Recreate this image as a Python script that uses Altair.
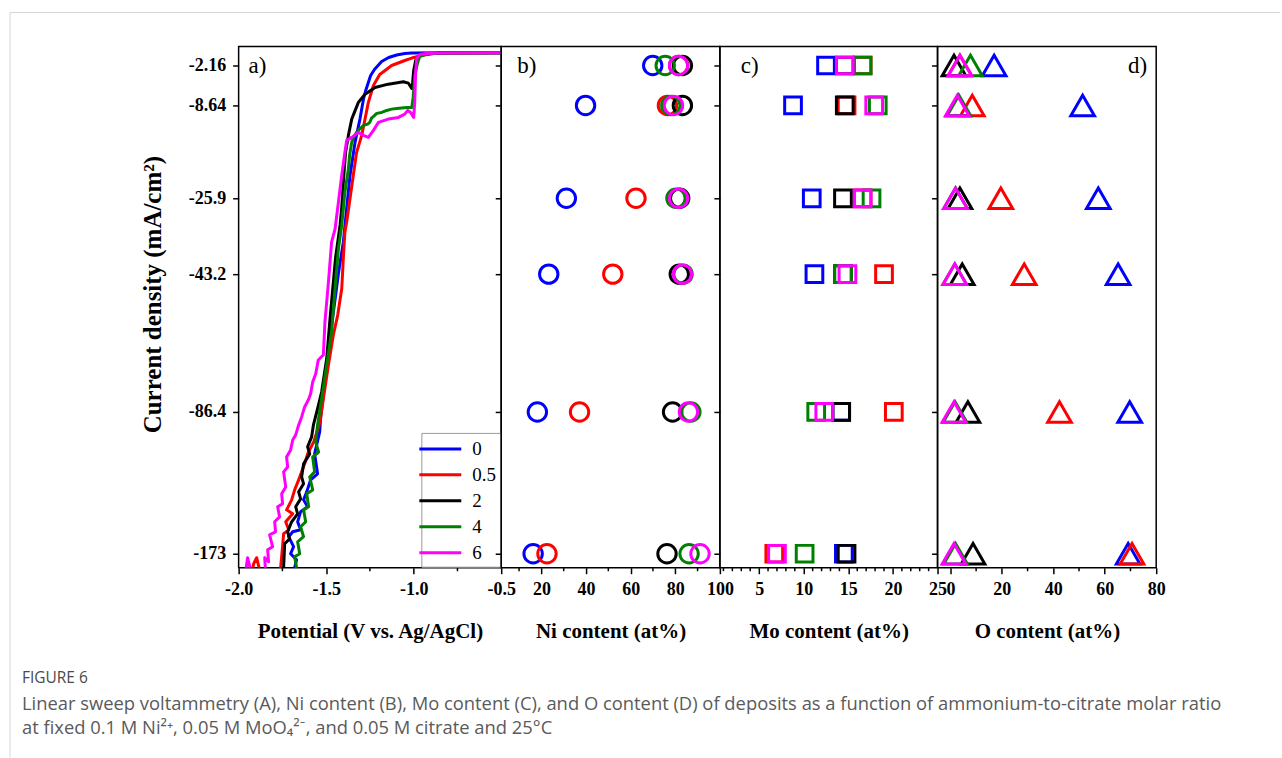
import altair as alt
import pandas as pd

FONT = "Liberation Serif, Times New Roman, Times, serif"
SANS = "Open Sans, Lato, sans-serif"

# ---- categories / colours ----
ratios = ["0", "0.5", "2", "4", "6"]
colors = ["#0000FF", "#FF0000", "#000000", "#008000", "#FF00FF"]

# current densities used for deposition (y axis, mA/cm2)
levels = [-2.16, -8.64, -25.9, -43.2, -86.4, -173]

# ---- panel b: Ni content (at%) per ratio, ordered as `levels` ----
ni_0 = [69.9, 39.8, 31.2, 23.3, 18.2, 16.3]
ni_05 = [81.5, 76.5, 62.4, 52.0, 37.1, 22.5]
ni_2 = [83.2, 83.2, 82.0, 81.8, 78.8, 76.3]
ni_4 = [75.5, 78.0, 80.3, 83.5, 87.0, 86.2]
ni_6 = [81.5, 79.2, 81.5, 83.2, 85.9, 91.1]

# ---- panel c: Mo content (at%) ----
mo_0 = [12.5, 8.8, 10.9, 11.2, 14.2, 14.5]
mo_05 = [16.6, 14.8, 16.6, 19.0, 20.1, 6.7]
mo_2 = [14.6, 14.6, 14.4, 14.4, 14.2, 14.8]
mo_4 = [16.6, 18.3, 17.6, 14.4, 11.4, 10.1]
mo_6 = [14.6, 17.9, 16.6, 14.9, 12.3, 7.0]

# ---- panel d: O content (at%) ----
o_0 = [17.0, 51.4, 57.5, 65.2, 69.7, 69.1]
o_05 = [3.7, 8.5, 19.6, 28.7, 42.4, 70.6]
o_2 = [1.4, 3.0, 3.7, 4.6, 6.8, 8.8]
o_4 = [7.8, 3.3, 2.0, 1.7, 1.8, 2.0]
o_6 = [3.7, 2.7, 2.0, 1.7, 1.4, 1.4]

# ---- panel a: LSV curves, potential (V vs Ag/AgCl) and current density (mA/cm2) ----
pot_0 = [-0.5, -0.84, -1.011, -1.051, -1.097, -1.143, -1.183, -1.223, -1.246, -1.259, -1.274, -1.287,
         -1.307, -1.335, -1.364, -1.383, -1.402, -1.429, -1.451, -1.474, -1.491, -1.514, -1.531, -1.537,
         -1.566, -1.549, -1.589, -1.611, -1.629, -1.606, -1.646, -1.663, -1.646, -1.691, -1.714, -1.686,
         -1.703, -1.669, -1.680, -1.657]
cur_0 = [-0.1, -0.1, -0.13, -0.22, -0.46, -0.86, -1.51, -2.76, -3.78, -4.91, -6.21, -7.62,
         -11.18, -15.51, -21.7, -28.34, -35.91, -42.75, -51.96, -61.35, -70.75, -80.14, -89.45, -98.6,
         -112.0, -124.2, -127.9, -135.2, -140.1, -144.3, -147.4, -153.5, -158.4, -159.6, -162.6, -168.7,
         -173.0, -176.7, -181.5, -185.2]

pot_05 = [-0.5, -0.84, -0.897, -0.954, -1.011, -1.051, -1.126, -1.194, -1.230, -1.259, -1.278, -1.297,
          -1.326, -1.345, -1.364, -1.383, -1.393, -1.400, -1.411, -1.434, -1.459, -1.487, -1.516, -1.535,
          -1.571, -1.606, -1.623, -1.640, -1.657, -1.680, -1.697, -1.726, -1.691, -1.731, -1.714, -1.743,
          -1.749, -1.760, -1.80, -1.857, -1.897, -1.914, -1.937]
cur_05 = [-0.1, -0.13, -0.22, -0.54, -0.95, -1.35, -2.16, -3.62, -5.40, -8.15, -11.18, -14.21,
          -17.36, -21.63, -26.06, -31.36, -33.64, -38.19, -47.8, -56.03, -62.29, -71.71, -82.24, -92.5,
          -104.7, -112.0, -118.1, -123.0, -127.9, -134.0, -140.1, -146.2, -148.6, -153.5, -158.4, -160.8,
          -168.7, -181.5, -190.1, -193.1, -175.4, -179.1, -190.1]

pot_2 = [-0.5, -0.84, -0.926, -0.966, -0.989, -1.0, -1.006, -1.011, -1.030, -1.059, -1.145, -1.221,
         -1.278, -1.316, -1.354, -1.373, -1.389, -1.400, -1.411, -1.420, -1.430, -1.446, -1.459, -1.478,
         -1.497, -1.526, -1.549, -1.573, -1.583, -1.606, -1.594, -1.629, -1.640, -1.629, -1.657, -1.646,
         -1.674, -1.663, -1.697, -1.720, -1.709, -1.737, -1.743, -1.754]
cur_2 = [-0.1, -0.13, -0.30, -0.54, -1.35, -2.97, -4.91, -5.89, -5.03, -4.80, -5.19, -5.72,
         -6.81, -8.15, -11.18, -14.21, -17.36, -22.0, -27.95, -31.82, -34.78, -39.33, -45.70, -57.18,
         -69.72, -80.14, -85.37, -94.5, -101.6, -107.7, -112.0, -118.1, -126.0, -130.3, -135.2, -139.5,
         -144.3, -148.6, -153.5, -159.6, -163.9, -166.9, -181.5, -187.0]

pot_4 = [-0.5, -0.84, -0.926, -0.966, -0.977, -0.994, -1.003, -1.011, -1.040, -1.097, -1.126, -1.154,
         -1.183, -1.211, -1.229, -1.240, -1.251, -1.263, -1.286, -1.309, -1.326, -1.343, -1.354, -1.366,
         -1.373, -1.393, -1.411, -1.430, -1.451, -1.469, -1.497, -1.526, -1.549, -1.560, -1.543, -1.577,
         -1.566, -1.594, -1.577, -1.611, -1.600, -1.629, -1.617, -1.646, -1.629, -1.663, -1.651, -1.680,
         -1.669, -1.697]
cur_4 = [-0.1, -0.13, -0.30, -0.70, -1.67, -3.78, -7.34, -9.01, -9.01, -9.20, -9.33, -9.57,
         -9.94, -10.12, -10.68, -10.96, -11.8, -12.11, -12.35, -13.04, -13.65, -14.58, -15.51, -17.92,
         -20.46, -24.79, -32.05, -37.44, -48.83, -61.35, -71.71, -82.24, -94.33, -104.7, -110.9, -113.9,
         -123.0, -126.1, -134.0, -136.4, -144.3, -146.2, -153.5, -156.5, -162.6, -165.7, -173.0, -174.8,
         -181.5, -187.0]

pot_6 = [-0.5, -0.84, -0.926, -0.966, -0.983, -0.989, -0.994, -1.0, -1.017, -1.034, -1.051, -1.087,
         -1.145, -1.202, -1.230, -1.259, -1.287, -1.316, -1.354, -1.383, -1.393, -1.411, -1.430, -1.449,
         -1.469, -1.487, -1.507, -1.516, -1.545, -1.560, -1.577, -1.589, -1.602, -1.623, -1.640, -1.657,
         -1.674, -1.691, -1.703, -1.726, -1.720, -1.743, -1.731, -1.754, -1.749, -1.777, -1.766, -1.794,
         -1.789, -1.823, -1.806, -1.834, -1.829, -1.851, -1.846, -1.880, -1.914, -1.949, -1.960]
cur_6 = [-0.1, -0.13, -0.22, -0.38, -1.03, -3.29, -8.15, -10.87, -9.94, -9.57, -10.25, -10.87,
         -11.18, -11.8, -13.28, -14.58, -14.21, -13.65, -14.58, -15.14, -17.36, -21.63, -26.81, -32.89,
         -35.92, -45.70, -58.22, -68.55, -70.12, -74.5, -77.03, -80.79, -82.64, -84.83, -89.45, -94.33,
         -100.4, -103.5, -109.6, -113.9, -120.0, -123.0, -132.2, -136.4, -142.5, -144.3, -150.5, -153.5,
         -159.6, -161.4, -168.7, -170.6, -177.9, -175.4, -184.0, -187.0, -190.1, -175.4, -184.0]

# axis tick values
ticks_a = [-2.0, -1.5, -1.0, -0.5]
minor_a = [-1.75, -1.25, -0.75]
ticks_b = [20, 40, 60, 80, 100]
minor_b = [10, 30, 50, 70, 90]
ticks_c = [5, 10, 15, 20, 25]
minor_c = [1, 2, 3, 4, 6, 7, 8, 9, 11, 12, 13, 14, 16, 17, 18, 19, 21, 22, 23, 24]
ticks_d = [0, 20, 40, 60, 80]
minor_d = [10, 30, 50, 70]

caption_head = "FIGURE 6"
caption_lines = [
    "Linear sweep voltammetry (A), Ni content (B), Mo content (C), and O content (D) of deposits as a function of ammonium-to-citrate molar ratio",
    "at fixed 0.1 M Ni\u00b2\u207a, 0.05 M MoO\u2084\u00b2\u207b, and 0.05 M citrate and 25\u00b0C",
]

# ---------------- build tables ----------------
curves = [(pot_0, cur_0), (pot_05, cur_05), (pot_2, cur_2), (pot_4, cur_4), (pot_6, cur_6)]
rows = []
for r, (pv, cv) in zip(ratios, curves):
    for i, (p, c) in enumerate(zip(pv, cv)):
        rows.append({"ratio": r, "idx": i, "V": p, "I": c})
lsv = pd.DataFrame(rows)


def comp_table(series, name):
    out = []
    for r, vals in zip(ratios, series):
        for lv, v in zip(levels, vals):
            out.append({"ratio": r, "I": lv, name: v})
    return pd.DataFrame(out)


ni_df = comp_table([ni_0, ni_05, ni_2, ni_4, ni_6], "Ni")
mo_df = comp_table([mo_0, mo_05, mo_2, mo_4, mo_6], "Mo")
o_df = comp_table([o_0, o_05, o_2, o_4, o_6], "O")

# ---------------- sizes / scales ----------------
W_A, W_B, W_C, W_D, H = 263, 219, 218, 219, 522
y_domain = [0.92] + levels + [-181.5]
y_range = [0, 19, 59, 152, 228, 366, 508, 522]


def yscale():
    return alt.Scale(domain=y_domain, range=y_range, nice=False, zero=False)


def cscale():
    return alt.Scale(domain=ratios, range=colors)


minus_fix = "replace(format(datum.value, '.1f'), '\u2212', '-')"

# ---------------- panel a ----------------
lines = alt.Chart(lsv).mark_line(strokeWidth=3, clip=True, strokeJoin="round").encode(
    x=alt.X("V:Q", scale=alt.Scale(domain=[-2.0, -0.5], nice=False, zero=False),
            axis=alt.Axis(values=ticks_a, labelExpr=minus_fix, title="Potential (V vs. Ag/AgCl)")),
    y=alt.Y("I:Q", scale=yscale(),
            axis=alt.Axis(values=levels, labelExpr="datum.value + ''",
                          title="Current density (mA/cm\u00b2)", titleFontSize=25, titlePadding=23,
                          titleY=248)),
    color=alt.Color("ratio:N", scale=cscale(), sort=ratios,
                    legend=alt.Legend(title=None, orient="bottom-right", offset=1,
                                      symbolType="M-2,0L2,0", symbolSize=441, symbolStrokeWidth=3,
                                      symbolOffset=3, labelOffset=20, labelFont=FONT, labelFontSize=19,
                                      labelFontWeight="normal", labelColor="black", padding=4,
                                      rowPadding=4, strokeColor="#9a9a9a", fillColor="white")),
    order=alt.Order("idx:Q"),
)
minor_rule_a = alt.Chart(pd.DataFrame({"V": minor_a})).mark_rule(color="black", strokeWidth=1.5).encode(
    x="V:Q", y=alt.value(H), y2=alt.value(H + 3.5))

# light page frame (top and left edges of the figure card)
frame_top = alt.Chart(pd.DataFrame({"k": [0]})).mark_rule(color="#d6d6d6", strokeWidth=1).encode(
    x=alt.value(-229), x2=alt.value(1043), y=alt.value(-34))
frame_left = alt.Chart(pd.DataFrame({"k": [0]})).mark_rule(color="#d6d6d6", strokeWidth=1).encode(
    x=alt.value(-229), y=alt.value(-34), y2=alt.value(712))

# figure caption (placed below the panels, left-aligned with the page margin)
cap_head = alt.Chart(pd.DataFrame({"t": [caption_head]})).mark_text(
    font=SANS, fontSize=15.5, align="left", baseline="middle", color="#4a4a4a").encode(
    text="t:N", x=alt.value(-217), y=alt.value(632))
cap_l1 = alt.Chart(pd.DataFrame({"t": [caption_lines[0]]})).mark_text(
    font=SANS, fontSize=18.4, align="left", baseline="middle", color="#5a5a5a").encode(
    text="t:N", x=alt.value(-217), y=alt.value(659))
cap_l2 = alt.Chart(pd.DataFrame({"t": [caption_lines[1]]})).mark_text(
    font=SANS, fontSize=18.4, align="left", baseline="middle", color="#5a5a5a").encode(
    text="t:N", x=alt.value(-217), y=alt.value(683))


def label_layer(txt, xpos, align="left"):
    return alt.Chart(pd.DataFrame({"t": [txt]})).mark_text(
        font=FONT, fontSize=23, align=align, baseline="middle", color="black").encode(
        text="t:N", x=alt.value(xpos), y=alt.value(20))


panel_a = alt.layer(lines, minor_rule_a, label_layer("a)", 10), frame_top, frame_left,
                    cap_head, cap_l1, cap_l2).properties(width=W_A, height=H)


# ---------------- marker panels ----------------
def marker_panel(df, field, dom, ticks, minor, shape, size, title, lab, labx, align, width):
    pts = alt.Chart(df).mark_point(shape=shape, size=size, filled=False, strokeWidth=3, opacity=1).encode(
        x=alt.X(f"{field}:Q", scale=alt.Scale(domain=dom, nice=False, zero=False),
                axis=alt.Axis(values=ticks, labelExpr="datum.value + ''", title=title)),
        y=alt.Y("I:Q", scale=yscale(), axis=alt.Axis(values=levels, labels=False, title=None)),
        color=alt.Color("ratio:N", scale=cscale(), legend=None),
    )
    mr = alt.Chart(pd.DataFrame({field: minor})).mark_rule(color="black", strokeWidth=1.5).encode(
        x=f"{field}:Q", y=alt.value(H), y2=alt.value(H + 3.5))
    return alt.layer(pts, mr, label_layer(lab, labx, align)).properties(width=width, height=H)


panel_b = marker_panel(ni_df, "Ni", [2, 100], ticks_b, minor_b, "circle", 340,
                       "Ni content (at%)", "b)", 16, "left", W_B)
panel_c = marker_panel(mo_df, "Mo", [0.6, 25], ticks_c, minor_c, "square", 280,
                       "Mo  content (at%)", "c)", 21, "left", W_C)
panel_d = marker_panel(o_df, "O", [-5, 80], ticks_d, minor_d, "triangle-up", 560,
                       "O content (at%)", "d)", 210, "right", W_D)

chart = alt.hconcat(panel_a, panel_b, panel_c, panel_d, spacing=0, bounds="flush").resolve_scale(
    color="independent", x="independent", y="independent"
).resolve_legend(color="independent").properties(
    padding={"left": 8, "top": 10, "right": 0, "bottom": 0},
    background="white",
).configure_view(stroke="black", strokeWidth=1.5).configure_axis(
    grid=False, domain=False, ticks=True, tickColor="black", tickWidth=1.5, tickSize=6,
    labelFont=FONT, labelFontSize=18, labelFontWeight="bold", labelColor="black", labelPadding=7,
    labelFlush=False, labelOverlap=False,
    titleFont=FONT, titleFontSize=21, titleFontWeight="bold", titleColor="black", titlePadding=22,
)

chart.save("out.html", embed_options={"renderer": "svg", "actions": False})
